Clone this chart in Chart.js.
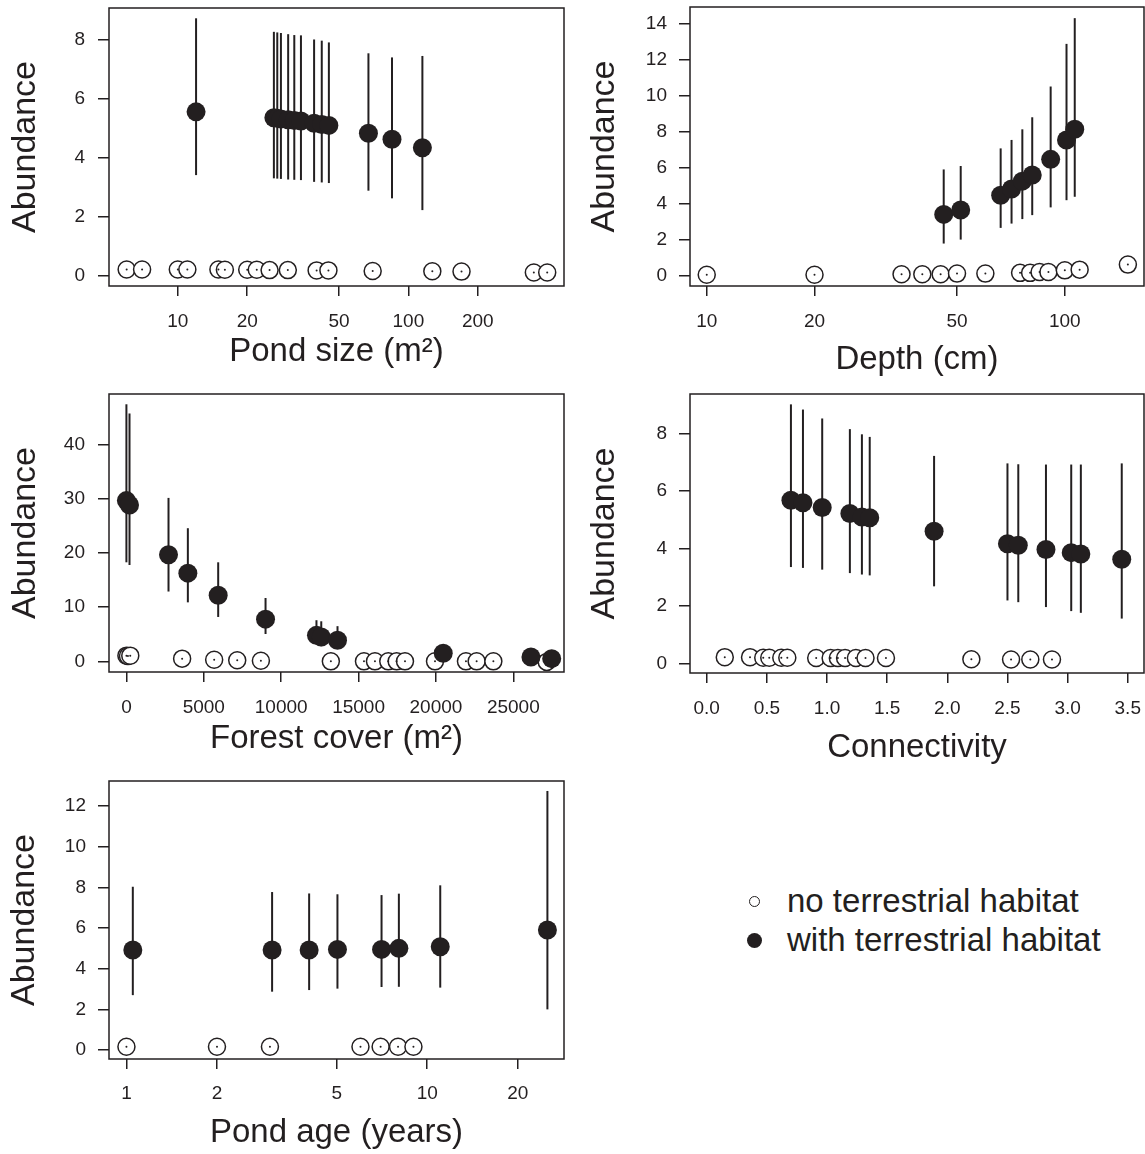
<!DOCTYPE html>
<html>
<head>
<meta charset="utf-8">
<script src="https://cdn.jsdelivr.net/npm/chart.js@4.4.0/dist/chart.umd.min.js"></script>
<style>
  body { margin: 0; background: #fff; width: 1145px; height: 1154px; position: relative; overflow: hidden;
         font-family: "Liberation Sans", Arial, sans-serif; color: #231f20; }
  canvas { position: absolute; }
  .legend { position: absolute; left: 746px; top: 881.6px; font-size: 33px; }
  .row { display: flex; align-items: center; height: 39px; white-space: nowrap; }
  .slot { width: 16px; height: 16px; display: flex; align-items: center; justify-content: center; margin-right: 25px; }
  .dot { width: 9px; height: 9px; border-radius: 50%; border: 1.5px solid #231f20; background: #fff; }
  .dot.fill { width: 15px; height: 15px; border: 0; background: #231f20; }
</style>
</head>
<body>
<canvas id="size" width="575" height="380" style="left:0;top:0"></canvas>
<canvas id="depth" width="570" height="380" style="left:575px;top:0"></canvas>
<canvas id="forest" width="575" height="390" style="left:0;top:380px"></canvas>
<canvas id="conn" width="570" height="390" style="left:575px;top:380px"></canvas>
<canvas id="age" width="575" height="384" style="left:0;top:770px"></canvas>
<div class="legend">
  <div class="row"><span class="slot"><span class="dot"></span></span>no terrestrial habitat</div>
  <div class="row"><span class="slot"><span class="dot fill"></span></span>with terrestrial habitat</div>
</div>
<script>
// ---- pond size (m2) ----
const sizeX = [12, 26.1, 27, 28, 30.1, 32, 34.2, 39, 42.1, 45.2, 67.1, 84.9, 115];
const sizeY = [5.56, 5.36, 5.34, 5.32, 5.29, 5.27, 5.25, 5.17, 5.13, 5.10, 4.83, 4.63, 4.34];
const sizeHi = [8.74, 8.28, 8.26, 8.24, 8.20, 8.17, 8.16, 8.02, 7.98, 7.92, 7.55, 7.41, 7.46];
const sizeLo = [3.41, 3.30, 3.29, 3.28, 3.26, 3.25, 3.24, 3.18, 3.16, 3.14, 2.88, 2.62, 2.22];
const sizeOpenX = [6, 7, 10, 11, 15, 16, 20, 22, 25, 30, 40, 45, 70, 127, 170, 350, 400];
const sizeOpenY = [0.2, 0.2, 0.2, 0.2, 0.2, 0.19, 0.19, 0.19, 0.18, 0.18, 0.17, 0.17, 0.15, 0.14, 0.13, 0.1, 0.1];
const sizeTicks = [10, 20, 50, 100, 200];

// ---- depth (cm) ----
const depthX = [45.9, 51.2, 66.2, 71, 76.1, 81.1, 91.3, 101.1, 106.6];
const depthY = [3.42, 3.66, 4.49, 4.83, 5.27, 5.61, 6.48, 7.56, 8.15];
const depthHi = [5.92, 6.11, 7.09, 7.56, 8.15, 8.82, 10.53, 12.9, 14.33];
const depthLo = [1.80, 2.02, 2.67, 2.91, 3.16, 3.38, 3.81, 4.21, 4.40];
const depthOpenX = [10, 20, 35, 40, 45, 50, 60, 75, 80, 85, 90, 100, 110, 150];
const depthOpenY = [0.07, 0.07, 0.09, 0.09, 0.09, 0.13, 0.13, 0.17, 0.17, 0.22, 0.22, 0.31, 0.35, 0.63];
const depthTicks = [10, 20, 50, 100];

// ---- forest cover (m2) ----
const forestX = [0, 200, 2720, 3970, 5930, 8990, 12280, 12590, 13640, 20470, 26140, 27480];
const forestY = [29.7, 28.9, 19.7, 16.3, 12.2, 7.8, 4.8, 4.5, 3.9, 1.5, 0.8, 0.5];
const forestHi = [47.5, 45.8, 30.2, 24.6, 18.3, 11.7, 7.6, 7.4, 6.5, null, null, null];
const forestLo = [18.3, 17.8, 12.9, 10.9, 8.2, 5.05, 3.4, 2.8, 2.9, null, null, null];
const forestOpenX = [0, 100, 250, 3600, 5670, 7160, 8690, 13210, 15350, 16060, 16920, 17460, 18000, 19940, 21940, 22630, 23710, 27160];
const forestOpenY = [1.05, 1.0, 1.05, 0.5, 0.3, 0.2, 0.12, 0, 0, 0, 0, 0, 0, 0, 0, 0, 0, -0.1];
const forestTicks = [0, 5000, 10000, 15000, 20000, 25000];

// ---- connectivity ----
const connX = [0.70, 0.80, 0.96, 1.19, 1.29, 1.355, 1.89, 2.50, 2.59, 2.82, 3.03, 3.11, 3.45];
const connY = [5.68, 5.59, 5.43, 5.22, 5.10, 5.07, 4.60, 4.17, 4.12, 3.97, 3.86, 3.81, 3.63];
const connHi = [9.01, 8.83, 8.52, 8.15, 7.97, 7.88, 7.22, 6.96, 6.93, 6.92, 6.92, 6.92, 6.96];
const connLo = [3.36, 3.33, 3.27, 3.15, 3.10, 3.07, 2.69, 2.20, 2.14, 1.97, 1.83, 1.77, 1.57];
const connOpenX = [0.15, 0.36, 0.47, 0.52, 0.62, 0.67, 0.91, 1.03, 1.09, 1.15, 1.24, 1.32, 1.49, 2.20, 2.53, 2.69, 2.87];
const connOpenY = [0.23, 0.23, 0.21, 0.21, 0.21, 0.21, 0.2, 0.2, 0.2, 0.2, 0.2, 0.2, 0.2, 0.16, 0.15, 0.15, 0.15];
const connTicks = [0, 0.5, 1, 1.5, 2, 2.5, 3, 3.5];

// ---- pond age (years) ----
const ageX = [1.05, 3.05, 4.05, 5.03, 7.05, 8.05, 11.05, 25.1];
const ageY = [4.92, 4.92, 4.92, 4.95, 4.95, 5.0, 5.08, 5.90];
const ageHi = [8.03, 7.77, 7.70, 7.66, 7.62, 7.69, 8.10, 12.74];
const ageLo = [2.70, 2.87, 2.95, 3.02, 3.10, 3.11, 3.07, 2.00];
const ageOpenX = [1, 2, 3, 6, 7, 8, 9];
const ageOpenY = [0.16, 0.16, 0.16, 0.16, 0.16, 0.16, 0.16];
const ageTicks = [1, 2, 5, 10, 20];

const ink = '#231f20';
const family = '"Liberation Sans", Arial, sans-serif';

// error bars under the points, box around the plot area
const rPlot = {
  id: 'rPlot',
  beforeDatasetsDraw(chart) {
    const { ctx, scales: { x, y } } = chart;
    ctx.save();
    ctx.strokeStyle = ink;
    ctx.lineWidth = 2;
    chart.data.datasets.forEach(ds => {
      if (!ds.errLo) return;
      ds.data.forEach((p, i) => {
        if (ds.errLo[i] == null) return;
        const px = x.getPixelForValue(p.x);
        ctx.beginPath();
        ctx.moveTo(px, y.getPixelForValue(ds.errLo[i]));
        ctx.lineTo(px, y.getPixelForValue(ds.errHi[i]));
        ctx.stroke();
      });
    });
    ctx.restore();
  },
  afterDraw(chart) {
    const { ctx, chartArea: a } = chart;
    ctx.save();
    ctx.strokeStyle = ink;
    ctx.lineWidth = 1.5;
    ctx.strokeRect(a.left, a.top, a.right - a.left, a.bottom - a.top);
    ctx.restore();
  }
};

function pts(xs, ys) {
  return xs.map((x, i) => ({ x, y: ys[i] }));
}

function panel(id, c) {
  new Chart(document.getElementById(id), {
    type: 'scatter',
    data: {
      datasets: [
        { data: pts(c.fx, c.fy), errLo: c.lo, errHi: c.hi, pointRadius: 9.5,
          backgroundColor: ink, borderWidth: 0, order: 0 },
        { data: pts(c.ox, c.oy), pointRadius: 1, backgroundColor: ink, borderWidth: 0, order: 1 },
        { data: pts(c.ox, c.oy), pointRadius: 8.5, backgroundColor: '#fff',
          borderColor: ink, borderWidth: 1.5, order: 2 }
      ]
    },
    options: {
      responsive: false,
      animation: false,
      events: [],
      layout: { autoPadding: false, padding: { top: c.padT, right: c.padR, left: 0, bottom: 0 } },
      scales: {
        x: {
          type: c.xType, min: c.xMin, max: c.xMax,
          afterBuildTicks: s => { s.ticks = c.xTicks.map(v => ({ value: v })); },
          afterFit: s => { s.height = c.xH; s.paddingLeft = 0; s.paddingRight = 0; },
          ticks: { autoSkip: false, maxRotation: 0, padding: c.xTickPad, color: ink,
                   font: { family, size: 19 }, callback: c.xFmt || (v => String(v)) },
          grid: { drawOnChartArea: false, tickLength: 10, color: ink, lineWidth: 1.5 },
          border: { display: false },
          title: { display: true, text: c.xTitle, color: ink,
                   font: { family, size: 33, lineHeight: 1 }, padding: { top: 0, bottom: c.xTitlePad } }
        },
        y: {
          type: 'linear', min: c.yMin, max: c.yMax,
          afterBuildTicks: s => { s.ticks = c.yTicks.map(v => ({ value: v })); },
          afterFit: s => { s.width = c.yW; s.paddingTop = 0; s.paddingBottom = 0; },
          ticks: { autoSkip: false, padding: c.yTickPad, color: ink, font: { family, size: 19 } },
          grid: { drawOnChartArea: false, tickLength: 11, color: ink, lineWidth: 1.5 },
          border: { display: false },
          title: { display: true, text: 'Abundance', color: ink,
                   font: { family, size: 34, lineHeight: 1 }, padding: { top: c.yTitlePad, bottom: 0 } }
        }
      },
      plugins: { legend: { display: false }, tooltip: { enabled: false } }
    },
    plugins: [rPlot]
  });
}

panel('size', {
  fx: sizeX, fy: sizeY, lo: sizeLo, hi: sizeHi, ox: sizeOpenX, oy: sizeOpenY,
  xType: 'logarithmic', xMin: 5.03, xMax: 473, xTicks: sizeTicks, xTitle: 'Pond size (m²)',
  yMin: -0.36, yMax: 9.09, yTicks: [0, 2, 4, 6, 8],
  padT: 8, padR: 11, xH: 94, yW: 109, xTickPad: 14.6, yTickPad: 13, xTitlePad: 11.6, yTitlePad: 9
});

panel('depth', {
  fx: depthX, fy: depthY, lo: depthLo, hi: depthHi, ox: depthOpenX, oy: depthOpenY,
  xType: 'logarithmic', xMin: 8.98, xMax: 166.4, xTicks: depthTicks, xTitle: 'Depth (cm)',
  yMin: -0.56, yMax: 14.95, yTicks: [0, 2, 4, 6, 8, 10, 12, 14],
  padT: 7, padR: 1, xH: 94, yW: 115, xTickPad: 14.6, yTickPad: 12, xTitlePad: 3.9, yTitlePad: 13
});

panel('forest', {
  fx: forestX, fy: forestY, lo: forestLo, hi: forestHi, ox: forestOpenX, oy: forestOpenY,
  xType: 'linear', xMin: -1125, xMax: 28275, xTicks: forestTicks, xTitle: 'Forest cover (m²)',
  yMin: -1.97, yMax: 49.4, yTicks: [0, 10, 20, 30, 40],
  padT: 14, padR: 11, xH: 98, yW: 109, xTickPad: 14.6, yTickPad: 13, xTitlePad: 14.9, yTitlePad: 9
});

panel('conn', {
  fx: connX, fy: connY, lo: connLo, hi: connHi, ox: connOpenX, oy: connOpenY,
  xType: 'linear', xMin: -0.139, xMax: 3.635, xTicks: connTicks, xTitle: 'Connectivity',
  xFmt: v => v.toFixed(1),
  yMin: -0.32, yMax: 9.37, yTicks: [0, 2, 4, 6, 8],
  padT: 14, padR: 1, xH: 97, yW: 115, xTickPad: 14.3, yTickPad: 12, xTitlePad: 5.6, yTitlePad: 13
});

panel('age', {
  fx: ageX, fy: ageY, lo: ageLo, hi: ageHi, ox: ageOpenX, oy: ageOpenY,
  xType: 'logarithmic', xMin: 0.875, xMax: 28.5, xTicks: ageTicks, xTitle: 'Pond age (years)',
  yMin: -0.44, yMax: 13.23, yTicks: [0, 2, 4, 6, 8, 10, 12],
  padT: 11, padR: 11, xH: 95, yW: 109, xTickPad: 13, yTickPad: 12, xTitlePad: 4.9, yTitlePad: 7.7
});
</script>
</body>
</html>
